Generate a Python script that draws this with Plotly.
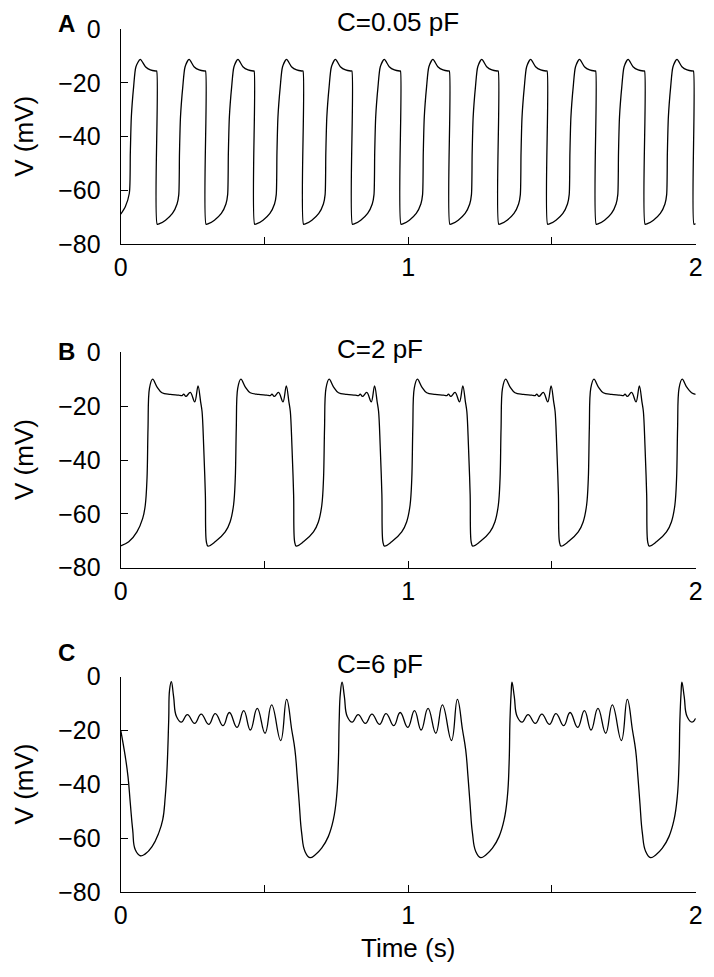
import plotly.graph_objects as go

# ---- data ----
# panel A, C = 0.05 pF  (time in s, voltage in mV)
t_a = [0, 0.016, 0.030, 0.0335, 0.037, 0.045, 0.053, 0.068, 0.086, 0.103, 0.121,
       0.125, 0.127, 0.135, 0.156, 0.180, 0.196, 0.202, 0.2045, 0.208, 0.216, 0.224, 0.238, 0.255, 0.273, 0.291,
       0.295, 0.297, 0.305, 0.326, 0.350, 0.366, 0.372, 0.3745, 0.378, 0.386, 0.394, 0.408, 0.425, 0.443, 0.461,
       0.464, 0.466, 0.474, 0.495, 0.519, 0.535, 0.541, 0.5435, 0.547, 0.555, 0.563, 0.577, 0.594, 0.612, 0.630,
       0.634, 0.636, 0.644, 0.665, 0.689, 0.705, 0.711, 0.7135, 0.717, 0.725, 0.733, 0.747, 0.764, 0.782, 0.800,
       0.804, 0.806, 0.814, 0.835, 0.859, 0.875, 0.881, 0.8835, 0.887, 0.895, 0.903, 0.917, 0.934, 0.952, 0.970,
       0.973, 0.975, 0.983, 1.004, 1.028, 1.044, 1.050, 1.0525, 1.056, 1.064, 1.072, 1.086, 1.103, 1.121, 1.139,
       1.143, 1.145, 1.153, 1.174, 1.198, 1.214, 1.220, 1.2225, 1.226, 1.234, 1.242, 1.256, 1.273, 1.291, 1.309,
       1.313, 1.315, 1.323, 1.344, 1.368, 1.384, 1.390, 1.3925, 1.396, 1.404, 1.412, 1.426, 1.443, 1.461, 1.479,
       1.483, 1.485, 1.493, 1.514, 1.538, 1.554, 1.560, 1.5625, 1.566, 1.574, 1.582, 1.596, 1.613, 1.631, 1.649,
       1.652, 1.654, 1.662, 1.683, 1.707, 1.723, 1.729, 1.7315, 1.735, 1.743, 1.751, 1.765, 1.782, 1.800, 1.818,
       1.822, 1.824, 1.832, 1.853, 1.877, 1.893, 1.899, 1.9015, 1.905, 1.913, 1.921, 1.935, 1.952, 1.970, 1.988,
       1.992, 1.994, 2.0]
v_a = [-68.8, -66, -61, -46, -32.6, -21.4, -14, -11.3, -14, -15.2, -15.6,
       -15.6, -72.5, -72.3, -71, -68.5, -65, -61.5, -46, -32.6, -21.4, -14, -11.3, -14, -15.2, -15.6,
       -15.6, -72.5, -72.3, -71, -68.5, -65, -61.5, -46, -32.6, -21.4, -14, -11.3, -14, -15.2, -15.6,
       -15.6, -72.5, -72.3, -71, -68.5, -65, -61.5, -46, -32.6, -21.4, -14, -11.3, -14, -15.2, -15.6,
       -15.6, -72.5, -72.3, -71, -68.5, -65, -61.5, -46, -32.6, -21.4, -14, -11.3, -14, -15.2, -15.6,
       -15.6, -72.5, -72.3, -71, -68.5, -65, -61.5, -46, -32.6, -21.4, -14, -11.3, -14, -15.2, -15.6,
       -15.6, -72.5, -72.3, -71, -68.5, -65, -61.5, -46, -32.6, -21.4, -14, -11.3, -14, -15.2, -15.6,
       -15.6, -72.5, -72.3, -71, -68.5, -65, -61.5, -46, -32.6, -21.4, -14, -11.3, -14, -15.2, -15.6,
       -15.6, -72.5, -72.3, -71, -68.5, -65, -61.5, -46, -32.6, -21.4, -14, -11.3, -14, -15.2, -15.6,
       -15.6, -72.5, -72.3, -71, -68.5, -65, -61.5, -46, -32.6, -21.4, -14, -11.3, -14, -15.2, -15.6,
       -15.6, -72.5, -72.3, -71, -68.5, -65, -61.5, -46, -32.6, -21.4, -14, -11.3, -14, -15.2, -15.6,
       -15.6, -72.5, -72.3, -71, -68.5, -65, -61.5, -46, -32.6, -21.4, -14, -11.3, -14, -15.2, -15.6,
       -15.6, -72.5, -72.3]

# panel B, C = 2 pF
t_b = [0.0, 0.028, 0.0565, 0.0765, 0.0855,
       0.0915, 0.095, 0.100, 0.111, 0.126, 0.1435, 0.1725, 0.2015, 0.213, 0.219, 0.227, 0.242, 0.2575, 0.269, 0.278, 0.283, 0.2885, 0.2945, 0.298, 0.3035, 0.3285, 0.3635, 0.3805, 0.3925,
       0.3985, 0.402, 0.407, 0.418, 0.433, 0.4505, 0.4795, 0.5085, 0.520, 0.526, 0.534, 0.549, 0.5645, 0.576, 0.585, 0.590, 0.5955, 0.6015, 0.605, 0.6105, 0.6355, 0.6705, 0.6875, 0.6995,
       0.7055, 0.709, 0.714, 0.725, 0.740, 0.7575, 0.7865, 0.8155, 0.827, 0.833, 0.841, 0.856, 0.8715, 0.883, 0.892, 0.897, 0.9025, 0.9085, 0.912, 0.9175, 0.9425, 0.9775, 0.9945, 1.0065,
       1.0125, 1.016, 1.021, 1.032, 1.047, 1.0645, 1.0935, 1.1225, 1.134, 1.140, 1.148, 1.163, 1.1785, 1.190, 1.199, 1.204, 1.2095, 1.2155, 1.219, 1.2245, 1.2495, 1.2845, 1.3015, 1.3135,
       1.3195, 1.323, 1.328, 1.339, 1.354, 1.3715, 1.4005, 1.4295, 1.441, 1.447, 1.455, 1.470, 1.4855, 1.497, 1.506, 1.511, 1.5165, 1.5225, 1.526, 1.5315, 1.5565, 1.5915, 1.6085, 1.6205,
       1.6265, 1.630, 1.635, 1.646, 1.661, 1.6785, 1.7075, 1.7365, 1.748, 1.754, 1.762, 1.777, 1.7925, 1.804, 1.813, 1.818, 1.8235, 1.8295, 1.833, 1.8385, 1.8635, 1.8985, 1.9155, 1.9275,
       1.9335, 1.937, 1.942, 1.953, 1.968, 1.9855, 2.0]
v_b = [-71.9, -70.4, -66.7, -61.7, -56.8,
       -46.9, -28.3, -13.4, -10.0, -12.8, -15.0, -15.6, -15.9, -16.1, -15.5, -16.4, -14.9, -18.4, -12.5, -18.4, -22.0, -34.5, -53.0, -70.4, -72.0, -70.4, -66.7, -63.0, -56.8,
       -46.9, -28.3, -13.4, -10.0, -12.8, -15.0, -15.6, -15.9, -16.1, -15.5, -16.4, -14.9, -18.4, -12.5, -18.4, -22.0, -34.5, -53.0, -70.4, -72.0, -70.4, -66.7, -63.0, -56.8,
       -46.9, -28.3, -13.4, -10.0, -12.8, -15.0, -15.6, -15.9, -16.1, -15.5, -16.4, -14.9, -18.4, -12.5, -18.4, -22.0, -34.5, -53.0, -70.4, -72.0, -70.4, -66.7, -63.0, -56.8,
       -46.9, -28.3, -13.4, -10.0, -12.8, -15.0, -15.6, -15.9, -16.1, -15.5, -16.4, -14.9, -18.4, -12.5, -18.4, -22.0, -34.5, -53.0, -70.4, -72.0, -70.4, -66.7, -63.0, -56.8,
       -46.9, -28.3, -13.4, -10.0, -12.8, -15.0, -15.6, -15.9, -16.1, -15.5, -16.4, -14.9, -18.4, -12.5, -18.4, -22.0, -34.5, -53.0, -70.4, -72.0, -70.4, -66.7, -63.0, -56.8,
       -46.9, -28.3, -13.4, -10.0, -12.8, -15.0, -15.6, -15.9, -16.1, -15.5, -16.4, -14.9, -18.4, -12.5, -18.4, -22.0, -34.5, -53.0, -70.4, -72.0, -70.4, -66.7, -63.0, -56.8,
       -46.9, -28.3, -13.4, -10.0, -12.8, -15.0, -15.6]

# panel C, C = 6 pF
t_c = [0, 0.016, 0.0254, 0.0334, 0.0417, 0.0508, 0.068, 0.0856, 0.109, 0.132, 0.146, 0.155, 0.161, 0.167, 0.170,
       0.176, 0.184, 0.194, 0.211, 0.232, 0.257, 0.280, 0.306, 0.329, 0.356, 0.378, 0.4045, 0.428, 0.451, 0.475, 0.502, 0.525, 0.5565, 0.577,
       0.595, 0.606, 0.614, 0.621, 0.6295, 0.641, 0.658, 0.676, 0.699, 0.722, 0.7395, 0.751, 0.757, 0.760, 0.764,
       0.770, 0.778, 0.788, 0.805, 0.826, 0.851, 0.874, 0.900, 0.923, 0.950, 0.972, 0.9985, 1.022, 1.045, 1.069, 1.096, 1.119, 1.1505, 1.171,
       1.189, 1.200, 1.208, 1.215, 1.2235, 1.235, 1.252, 1.270, 1.293, 1.316, 1.3335, 1.345, 1.351, 1.354, 1.358,
       1.361, 1.369, 1.379, 1.396, 1.417, 1.442, 1.465, 1.491, 1.514, 1.541, 1.563, 1.5895, 1.613, 1.636, 1.660, 1.687, 1.710, 1.7415, 1.762,
       1.780, 1.791, 1.799, 1.806, 1.8145, 1.826, 1.843, 1.861, 1.884, 1.907, 1.9245, 1.936, 1.942, 1.945, 1.949,
       1.952, 1.960, 1.970, 1.987, 2.0]
v_c = [-19.8, -29.7, -37.1, -47.0, -56.9, -64.3, -66.5, -65.8, -63.1, -58.1, -53.2, -44.5, -34.6, -16.1, -4.9,
       -1.8, -7.4, -14.8, -16.9, -14.1, -17.3, -13.9, -17.7, -13.7, -18.2, -13.3, -18.8, -12.6, -19.8, -11.8, -21.0, -10.5, -23.7, -8.4,
       -19.8, -27.2, -37.1, -47.0, -58.1, -64.9, -67.2, -66.2, -63.7, -59.4, -53.2, -44.5, -32.1, -16.1, -6.2,
       -2.0, -7.4, -14.8, -16.9, -14.1, -17.3, -13.9, -17.7, -13.7, -18.2, -13.3, -18.8, -12.6, -19.8, -11.8, -21.0, -10.5, -23.7, -8.4,
       -19.8, -27.2, -37.1, -47.0, -58.1, -64.9, -67.2, -66.2, -63.7, -59.4, -53.2, -44.5, -32.1, -16.1, -6.2,
       -2.0, -7.4, -14.8, -16.9, -14.1, -17.3, -13.9, -17.7, -13.7, -18.2, -13.3, -18.8, -12.6, -19.8, -11.8, -21.0, -10.5, -23.7, -8.4,
       -19.8, -27.2, -37.1, -47.0, -58.1, -64.9, -67.2, -66.2, -63.7, -59.4, -53.2, -44.5, -32.1, -16.1, -6.2,
       -2.0, -7.4, -14.8, -16.9, -15.5]

panel_letters = ["A", "B", "C"]
cap_labels = ["C=0.05 pF", "C=2 pF", "C=6 pF"]
x_tickvals = [0, 0.5, 1, 1.5, 2]
x_ticktext = ["0", "", "1", "", "2"]
y_tickvals = [-80, -60, -40, -20, 0]

# ---- layout ----
# positions measured in pixels of the 714x977 window; the page body has an
# 8px margin, so the figure is made 8px smaller and everything shifted back
OFF = 8
W, H = 714 - OFF, 977 - OFF
FONT = "Liberation Sans, Arial, sans-serif"
x_left, x_right = 120.7, 695.7
panel_tops = [29.0, 352.3, 676.7]
panel_h = 215.4
letter_y = [23.3, 351.7, 652.5]
cap_y = [22.5, 348.5, 664.0]
smooth = [0.7, 1.0, 1.3]


def px(x):
    return (x - OFF) / W


def py(y):
    return 1 - (y - OFF) / H


fig = go.Figure()
series = [(t_a, v_a), (t_b, v_b), (t_c, v_c)]

for i, (t, v) in enumerate(series):
    n = "" if i == 0 else str(i + 1)
    fig.add_trace(go.Scatter(x=t, y=v, mode="lines",
                             line=dict(color="black", width=1.3, shape="spline", smoothing=smooth[i]),
                             xaxis="x" + n, yaxis="y" + n, showlegend=False, hoverinfo="skip"))
    top = panel_tops[i]
    fig.update_layout({
        "xaxis" + n: dict(domain=[px(x_left), px(x_right)], anchor="y" + n, range=[0, 2],
                          automargin=False,
                          showline=True, linecolor="black", linewidth=1, mirror=False,
                          ticks="inside", ticklen=7, tickwidth=1, tickcolor="black",
                          tickvals=x_tickvals, ticktext=x_ticktext, ticklabelstandoff=1,
                          showgrid=False, zeroline=False,
                          tickfont=dict(family=FONT, size=25, color="black")),
        "yaxis" + n: dict(domain=[py(top + panel_h), py(top)], anchor="x" + n, range=[-80, 0],
                          automargin=False,
                          showline=True, linecolor="black", linewidth=1,
                          ticks="inside", ticklen=7, tickwidth=1, tickcolor="black",
                          tickvals=y_tickvals, ticklabelstandoff=14,
                          showgrid=False, zeroline=False,
                          tickfont=dict(family=FONT, size=25, color="black")),
    })
    # panel letter
    fig.add_annotation(x=px(56), y=py(letter_y[i]), xref="paper", yref="paper",
                       text="<b>" + panel_letters[i] + "</b>", showarrow=False,
                       xanchor="left", yanchor="middle",
                       font=dict(family=FONT, size=24, color="black"))
    # capacitance label
    fig.add_annotation(x=px(335), y=py(cap_y[i]), xref="paper", yref="paper",
                       text=cap_labels[i], showarrow=False, xanchor="left", yanchor="middle",
                       font=dict(family=FONT, size=26, color="black"))
    # y title
    fig.add_annotation(x=px(24), y=py(top + panel_h / 2), xref="paper", yref="paper",
                       text="V (mV)", textangle=-90, showarrow=False,
                       xanchor="center", yanchor="middle",
                       font=dict(family=FONT, size=26, color="black"))

fig.add_annotation(x=px(407.5), y=py(948), xref="paper", yref="paper",
                   text="Time (s)", showarrow=False, xanchor="center", yanchor="middle",
                   font=dict(family=FONT, size=26, color="black"))

fig.update_layout(width=W, height=H, margin=dict(l=0, r=0, t=0, b=0),
                  plot_bgcolor="white", paper_bgcolor="white")

fig.write_html("out.html")
